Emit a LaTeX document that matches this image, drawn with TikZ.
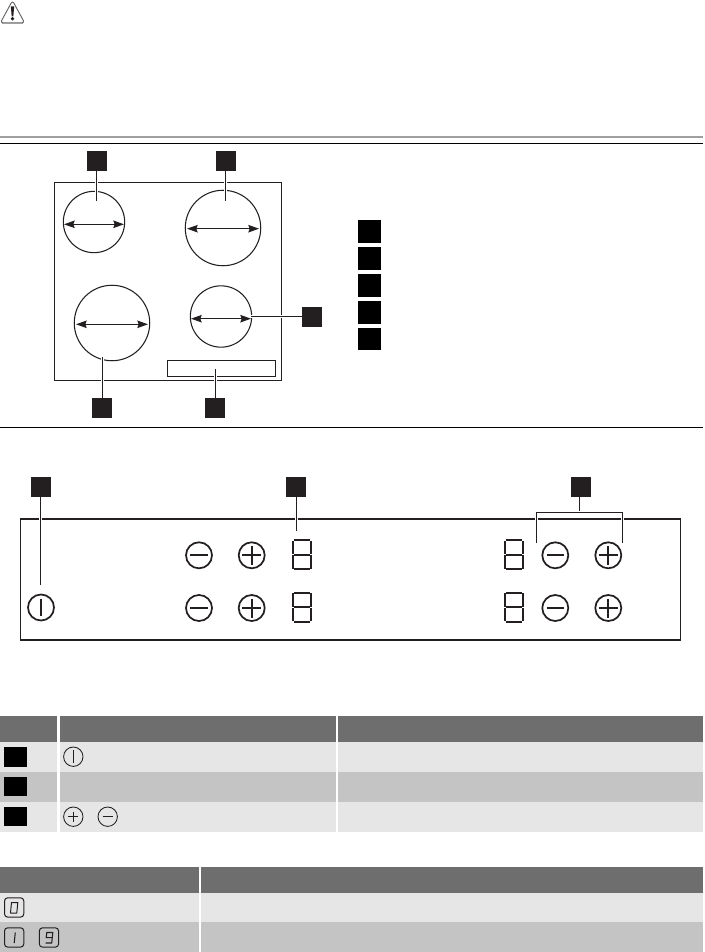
\documentclass[tikz,border=0pt]{standalone}
\usetikzlibrary{arrows.meta}
\definecolor{ink}{HTML}{231F20}
\definecolor{headgrey}{HTML}{6E6E6E}
\definecolor{lightrow}{HTML}{E6E6E6}
\definecolor{darkrow}{HTML}{C4C4C4}
\definecolor{rulegrey}{HTML}{A0A0A0}
\tikzset{
  callout/.style={fill=ink,draw=none,minimum size=15pt,inner sep=0pt,outer sep=0pt},
  keysq/.style={fill=black,draw=none,minimum size=17.2pt,inner sep=0pt,outer sep=0pt},
  tablesq/.style={fill=black,draw=none,minimum width=17.2pt,minimum height=14.8pt,inner sep=0pt,outer sep=0pt},
  zone/.style={circle,draw=ink,line width=0.8pt,fill=none,inner sep=0pt,outer sep=0pt},
  frameline/.style={draw=ink,line width=1.05pt},
  spanarrow/.style={draw=ink,line width=0.8pt,{Stealth[length=8pt,width=5.6pt,inset=1pt]}-{Stealth[length=8pt,width=5.6pt,inset=1pt]}},
  conn/.style={draw=ink,line width=0.75pt,preaction={draw=white,line width=2.6pt}},
  iconring/.style={draw=ink,line width=1.3pt},
  smallring/.style={draw=ink,line width=0.65pt},
  pics/minusicon/.style={code={
    \draw[iconring] (0,0) circle (13);
    \draw[iconring] (-8.8,0) -- (8.8,0);}},
  pics/plusicon/.style={code={
    \draw[iconring] (0,0) circle (13);
    \draw[iconring] (-9.5,0) -- (9.5,0);
    \draw[iconring] (0,-9.5) -- (0,9.5);}},
  pics/powericon/.style={code={
    \draw[iconring] (0,0) circle (13);
    \draw[iconring] (0,-8.8) -- (0,8.8);}},
  pics/eightdigit/.style={code={
    \begin{scope}[draw=ink,line width=1.6pt,line cap=butt]
    \draw (1.8,1.2) -- (18.2,1.2);
    \draw (1.2,1.9) -- (1.2,15);
    \draw (19,1.9) -- (19,15);
    \draw (1.8,15.7) -- (18.2,15.7);
    \draw (1.2,16.4) -- (1.2,29.6);
    \draw (19,16.4) -- (19,29.6);
    \draw (1.8,30.2) -- (18.2,30.2);
    \end{scope}}},
  pics/keybox/.style={code={
    \draw[draw=ink,line width=0.75pt,rounded corners=2.4pt] (0,0) rectangle (19.3,19.3);}},
}
\begin{document}
\begin{tikzpicture}[x=0.75pt,y=-0.75pt]
\useasboundingbox (0,0) rectangle (704,952);

% warning triangle
\draw[draw=ink!70,line width=0.7pt,line join=round,rounded corners=2pt] (12.5,0.6) -- (24.6,22.8) -- (0.4,22.8) -- cycle;
\draw[draw=rulegrey,line width=0.8pt] (2,23.6) -- (23,23.6);
\fill[ink] (10.8,6.5) -- (14.2,6.5) -- (13.3,16.5) -- (11.7,16.5) -- cycle;
\fill[ink] (12.5,18.8) circle (1.8);

% rules
\fill[rulegrey] (0,136) rectangle (702.5,138);
\fill[black] (0,143) rectangle (702.5,144);
\fill[black] (0,427) rectangle (702.5,428);

% hob
\draw[frameline] (54.5,182.5) rectangle (281.5,380.5);
\draw[draw=ink,line width=0.8pt] (167.5,360.5) rectangle (275.5,376.5);
\node[zone,minimum size=46pt] (z1) at (94,222) {};
\node[zone,minimum size=56.6pt] (z2) at (223,228) {};
\node[zone,minimum size=56.6pt] (z3) at (112,323) {};
\node[zone,minimum size=46pt] (z4) at (221,316.5) {};
\coordinate (a1l) at (64,224.3); \coordinate (a1r) at (124,224.3);
\coordinate (a2l) at (187,228.7); \coordinate (a2r) at (259,228.7);
\coordinate (a3l) at (76,324.3); \coordinate (a3r) at (148,324.3);
\coordinate (a4l) at (191,318.7); \coordinate (a4r) at (251,318.7);
\draw[spanarrow] (a1l) -- (a1r);
\draw[spanarrow] (a2l) -- (a2r);
\draw[spanarrow] (a3l) -- (a3r);
\draw[spanarrow] (a4l) -- (a4r);

\node[callout] (c1) at (97,161) {};
\node[callout] (c2) at (226,161) {};
\node[callout] (c3) at (312,317) {};
\node[callout] (c4) at (102,408) {};
\node[callout] (c5) at (215,408) {};
\coordinate (e1) at (96.5,201.5);
\coordinate (e2) at (225.5,201.5);
\coordinate (e3) at (251,316.4);
\coordinate (e4) at (102.5,357.3);
\coordinate (e5) at (215.5,369);
\draw[conn] (c1.south -| e1) -- (e1);
\draw[conn] (c2.south -| e2) -- (e2);
\draw[conn] (c3.west |- e3) -- (e3);
\draw[conn] (c4.north -| e4) -- (e4);
\draw[conn] (c5.north -| e5) -- (e5);

% key squares
\node[keysq] (k1) at (369.5,231.5) {};
\node[keysq] (k2) at (369.5,258.5) {};
\node[keysq] (k3) at (369.5,285.5) {};
\node[keysq] (k4) at (369.5,312.5) {};
\node[keysq,minimum height=16.5pt] (k5) at (369.5,339) {};

% control panel
\draw[draw=ink,line width=1.35pt] (20.5,518.7) rectangle (680.5,640);
\pic at (41,607.5) {powericon};
\pic at (199,555.3) {minusicon};
\pic at (199,608) {minusicon};
\pic at (251.7,555.3) {plusicon};
\pic at (251.7,608) {plusicon};
\pic at (555.3,555.3) {minusicon};
\pic at (555.3,608) {minusicon};
\pic at (608.3,555.3) {plusicon};
\pic at (608.3,608) {plusicon};
\pic at (292,539) {eightdigit};
\pic at (292,591.5) {eightdigit};
\pic at (504,539) {eightdigit};
\pic at (504,591.5) {eightdigit};

\node[callout] (p1) at (41,487) {};
\node[callout] (p2) at (296,487) {};
\node[callout] (p3) at (581,487) {};
\coordinate (f1) at (40.5,585);
\coordinate (f2) at (296.5,530.7);
\coordinate (bj) at (579.5,512.3);
\coordinate (bl) at (536.3,542.7);
\coordinate (br) at (622.7,542.7);
\draw[conn] (p1.south -| f1) -- (f1);
\draw[conn] (p2.south -| f2) -- (f2);
\draw[conn] (p3.south -| bj) -- (bj);
\draw[conn,line join=miter] (bl) -- (bl |- bj) -- (br |- bj) -- (br);

% first table
\fill[headgrey] (0,716) rectangle (57.3,742);
\fill[headgrey] (60,716) rectangle (336,742);
\fill[headgrey] (338,716) rectangle (702.5,742);
\fill[lightrow] (0,742) rectangle (57.3,772);
\fill[lightrow] (60,742) rectangle (336,772);
\fill[lightrow] (338,742) rectangle (702.5,772);
\fill[darkrow] (0,772) rectangle (57.3,802);
\fill[darkrow] (60,772) rectangle (336,802);
\fill[darkrow] (338,772) rectangle (702.5,802);
\fill[lightrow] (0,802) rectangle (57.3,832);
\fill[lightrow] (60,802) rectangle (336,832);
\fill[lightrow] (338,802) rectangle (702.5,832);
\node[tablesq,minimum height=15pt] (t1) at (15.5,757) {};
\node[tablesq,minimum height=14.3pt] (t2) at (15.5,786.5) {};
\node[tablesq,minimum height=14.3pt] (t3) at (15.5,816.5) {};
% small icons
\draw[smallring] (73.3,756.7) circle (9.7);
\draw[draw=ink,line width=1pt] (73.3,750) -- (73.3,763.4);
\draw[smallring] (73.3,816.7) circle (9.7);
\draw[smallring] (68.3,816.7) -- (78.3,816.7);
\draw[smallring] (73.3,811.7) -- (73.3,821.7);
\draw[smallring] (107.7,816.7) circle (9.7);
\draw[smallring] (102.7,816.7) -- (112.7,816.7);

% second table
\fill[headgrey] (0,867) rectangle (199,893);
\fill[headgrey] (201,867) rectangle (702.5,893);
\fill[lightrow] (0,893) rectangle (199,922);
\fill[lightrow] (201,893) rectangle (702.5,922);
\fill[darkrow] (0,922) rectangle (199,952);
\fill[darkrow] (201,922) rectangle (702.5,952);
\pic at (4.5,897.8) {keybox};
\pic at (4.5,927.8) {keybox};
\pic at (39.3,927.8) {keybox};
% seven-segment glyphs 0, 1, 9
\draw[draw=ink,line width=0.75pt,line join=round] (11.5,902.5) -- (17.8,902.5) -- (16.8,913) -- (10.5,913) -- cycle;
\draw[draw=ink,line width=0.8pt] (15.3,932.5) -- (14.2,943);
\draw[draw=ink,line width=0.8pt,line join=round] (52,937.7) -- (46.2,937.7) -- (46.8,932.5) -- (52.8,932.5) -- (51.7,943) -- (45.5,943);
\end{tikzpicture}
\end{document}
